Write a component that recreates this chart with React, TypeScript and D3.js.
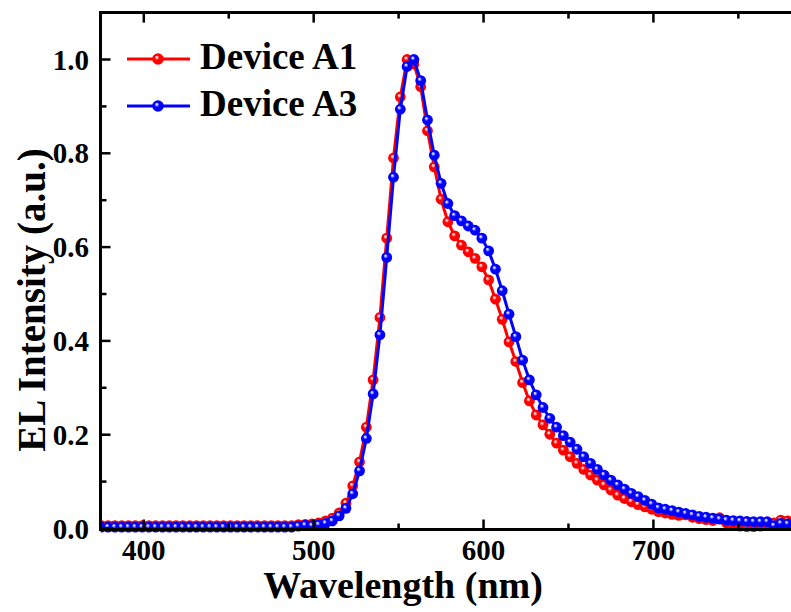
import React from "react";
import * as d3 from "d3";

// Emission wavelengths (nm)
const wavelengths = [
  375, 379, 383, 387, 391, 395, 399, 403, 407, 411, 415, 419, 423, 427, 431, 435, 439, 443, 447, 451,
  455, 459, 463, 467, 471, 475, 479, 483, 487, 491, 495, 499, 503, 507, 511, 515, 519, 523, 527, 531,
  535, 539, 543, 547, 551, 555, 559, 563, 567, 571, 575, 579, 583, 587, 591, 595, 599, 603, 607, 611,
  615, 619, 623, 627, 631, 635, 639, 643, 647, 651, 655, 659, 663, 667, 671, 675, 679, 683, 687, 691,
  695, 699, 703, 707, 711, 715, 719, 723, 727, 731, 735, 739, 743, 747, 751, 755, 759, 763, 767, 771,
  775, 779, 783, 787,
];

// Normalised EL intensity, Device A1
const deviceA1 = [
  0.006, 0.006, 0.006, 0.006, 0.006, 0.006, 0.006, 0.006, 0.006, 0.006, 0.006, 0.006, 0.006, 0.006, 0.006,
  0.006, 0.006, 0.006, 0.006, 0.006, 0.006, 0.006, 0.006, 0.006, 0.006, 0.006, 0.006, 0.006, 0.006,
  0.008, 0.009, 0.010, 0.012, 0.016, 0.022, 0.033, 0.054, 0.091, 0.142,
  0.216, 0.317, 0.450, 0.619, 0.790, 0.920, 1.000, 0.990, 0.942, 0.848,
  0.771, 0.702, 0.654, 0.624, 0.604, 0.590, 0.576, 0.558, 0.530, 0.489,
  0.446, 0.398, 0.356, 0.311, 0.272, 0.242, 0.221, 0.201, 0.182, 0.167,
  0.153, 0.139, 0.126, 0.114, 0.103, 0.093, 0.082, 0.071, 0.064, 0.057,
  0.051, 0.046, 0.041, 0.036, 0.033, 0.030, 0.028, 0.029, 0.024, 0.021,
  0.019, 0.017, 0.023, 0.012, 0.008, 0.005, 0.004, 0.004, 0.005, 0.006,
  0.012, 0.018, 0.016, 0.015, 0.014,
];

// Normalised EL intensity, Device A3
const deviceA3 = [
  0.003, 0.003, 0.003, 0.003, 0.003, 0.003, 0.003, 0.003, 0.003, 0.003, 0.003, 0.003, 0.003, 0.003, 0.003,
  0.003, 0.003, 0.003, 0.003, 0.003, 0.003, 0.003, 0.003, 0.003, 0.003, 0.003, 0.003, 0.003, 0.003,
  0.005, 0.007, 0.006, 0.008, 0.011, 0.016, 0.027, 0.043, 0.074, 0.123,
  0.192, 0.287, 0.413, 0.578, 0.749, 0.894, 0.985, 1.000, 0.955, 0.871,
  0.796, 0.736, 0.693, 0.667, 0.656, 0.645, 0.636, 0.619, 0.592, 0.553,
  0.507, 0.457, 0.409, 0.359, 0.317, 0.285, 0.258, 0.235, 0.216, 0.198,
  0.184, 0.169, 0.153, 0.139, 0.126, 0.114, 0.103, 0.093, 0.084, 0.075,
  0.068, 0.060, 0.052, 0.044, 0.041, 0.038, 0.035, 0.032, 0.029, 0.026,
  0.024, 0.022, 0.020, 0.018, 0.017, 0.016, 0.015, 0.0145, 0.0145, 0.0145,
  0.006, 0.011, 0.010, 0.010, 0.010,
];

const seriesNames = ["Device A1", "Device A3"];
const seriesColors = ["#ff0000", "#0000ff"];
const seriesHighlights = ["#ffc8c8", "#c8c8ff"];
const xTickValues = [400, 500, 600, 700];
const xMinorValues = [450, 550, 650, 750];
const yTickValues = [0, 0.2, 0.4, 0.6, 0.8, 1.0];
const yMinorValues = [0.1, 0.3, 0.5, 0.7, 0.9];

const WIDTH = 791;
const HEIGHT = 612;
const FONT = "'Liberation Serif', 'Times New Roman', serif";

export default function App() {
  const plotLeft = 100.5;
  const plotRight = 791;
  const plotTop = 12.6;
  const plotBottom = 528.5;
  const axisY = 529.5;

  const x = d3.scaleLinear().domain([374.5, 781]).range([plotLeft, plotRight]);
  const y = d3.scaleLinear().domain([0, 1.1]).range([plotBottom, plotTop]);

  const series = [deviceA1, deviceA3].map((vals, i) => ({
    name: seriesNames[i],
    color: seriesColors[i],
    highlight: seriesHighlights[i],
    points: wavelengths.map((w, j) => [w, vals[j]] as [number, number]),
  }));

  const line = d3
    .line<[number, number]>()
    .x((d) => x(d[0]))
    .y((d) => y(d[1]));

  const majorLen = 10;
  const minorLen = 6;
  const markerR = 5.4;

  return (
    <div style={{ position: "fixed", left: 0, top: 0 }}>
      <svg width={WIDTH} height={HEIGHT} style={{ display: "block", background: "#fff" }}>
        <defs>
          {series.map((s, i) => (
            <radialGradient key={i} id={`ball${i}`} cx="0.5" cy="0.5" r="0.5" fx="0.36" fy="0.32">
              <stop offset="0" stopColor="#ffffff" />
              <stop offset="0.14" stopColor={s.highlight} />
              <stop offset="0.42" stopColor={s.color} />
              <stop offset="1" stopColor={s.color} />
            </radialGradient>
          ))}
          <clipPath id="plotClip">
            <rect x={plotLeft} y={0} width={plotRight - plotLeft} height={axisY + 6} />
          </clipPath>
        </defs>

        {/* spectra */}
        <g clipPath="url(#plotClip)">
          {series.map((s, i) => (
            <g key={s.name}>
              <path d={line(s.points) || ""} fill="none" stroke={s.color} strokeWidth={3} strokeLinejoin="round" />
              {s.points.map((p, j) => (
                <circle key={j} cx={x(p[0])} cy={y(p[1])} r={markerR} fill={`url(#ball${i})`} />
              ))}
            </g>
          ))}
        </g>

        {/* frame */}
        <g stroke="#000" strokeWidth={3} fill="none">
          <line x1={plotLeft} x2={plotLeft} y1={plotTop - 1.5} y2={axisY + 1.5} />
          <line x1={plotLeft - 1.5} x2={WIDTH} y1={axisY} y2={axisY} />
          <line x1={plotLeft - 1.5} x2={WIDTH} y1={plotTop} y2={plotTop} />
        </g>

        {/* inward ticks on bottom, top and left */}
        <g stroke="#000" strokeWidth={2.5}>
          {xTickValues.map((t) => (
            <g key={`xt${t}`}>
              <line x1={x(t)} x2={x(t)} y1={axisY} y2={axisY - majorLen} />
              <line x1={x(t)} x2={x(t)} y1={plotTop} y2={plotTop + majorLen} />
            </g>
          ))}
          {xMinorValues.map((t) => (
            <g key={`xm${t}`}>
              <line x1={x(t)} x2={x(t)} y1={axisY} y2={axisY - minorLen} />
              <line x1={x(t)} x2={x(t)} y1={plotTop} y2={plotTop + minorLen} />
            </g>
          ))}
          {yTickValues.map((t) => (
            <line key={`yt${t}`} x1={plotLeft} x2={plotLeft + majorLen} y1={y(t)} y2={y(t)} />
          ))}
          {yMinorValues.map((t) => (
            <line key={`ym${t}`} x1={plotLeft} x2={plotLeft + minorLen} y1={y(t)} y2={y(t)} />
          ))}
        </g>

        {/* tick labels */}
        <g fontFamily={FONT} fontWeight="bold" fontSize={29} fill="#000">
          {xTickValues.map((t) => (
            <text key={`xl${t}`} x={x(t)} y={560} textAnchor="middle">
              {t}
            </text>
          ))}
          {yTickValues.map((t) => (
            <text key={`yl${t}`} x={89} y={y(t) + 10} textAnchor="end">
              {t.toFixed(1)}
            </text>
          ))}
        </g>

        {/* axis titles */}
        <text x={403} y={598} textAnchor="middle" fontFamily={FONT} fontWeight="bold" fontSize={38}>
          Wavelength (nm)
        </text>
        <text
          transform="translate(45,300) rotate(-90)"
          textAnchor="middle"
          fontFamily={FONT}
          fontWeight="bold"
          fontSize={39}
        >
          EL Intensity (a.u.)
        </text>

        {/* legend */}
        {series.map((s, i) => {
          const ly = 59 + i * 47;
          return (
            <g key={`lg${i}`}>
              <line x1={127} x2={190} y1={ly} y2={ly} stroke={s.color} strokeWidth={3} />
              <circle cx={158} cy={ly} r={5.8} fill={`url(#ball${i})`} />
              <text x={200} y={ly + 9.5} fontFamily={FONT} fontWeight="bold" fontSize={37}>
                {s.name}
              </text>
            </g>
          );
        })}
      </svg>
    </div>
  );
}
